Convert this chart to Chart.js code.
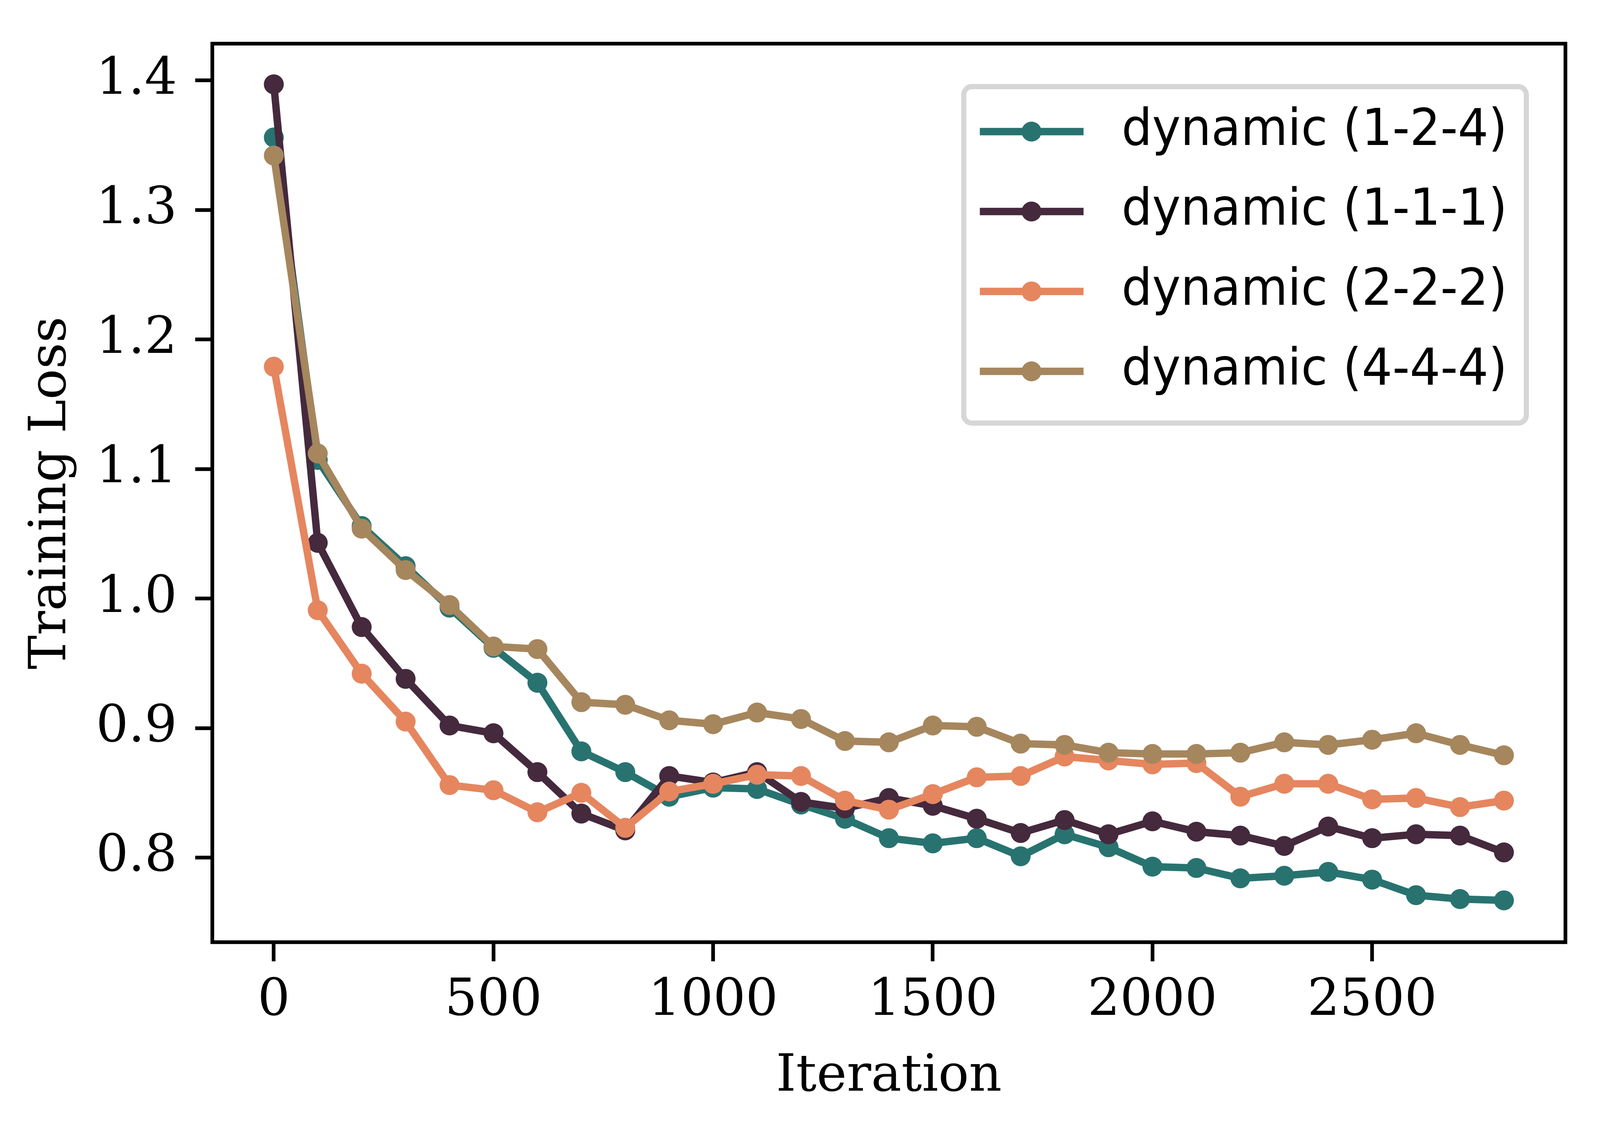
<!DOCTYPE html>
<html>
<head>
<meta charset="utf-8">
<script src="https://cdn.jsdelivr.net/npm/chart.js@4/dist/chart.umd.min.js"></script>
<style>
    html, body { margin: 0; padding: 0; background: #fff; overflow: hidden; }
    #chartBox { position: relative; }
</style>
</head>
<body>
<div id="chartBox"><canvas id="lossChart"></canvas></div>
<script>
// Iterations on the x axis
const iterations = [0, 100, 200, 300, 400, 500, 600, 700, 800, 900, 1000, 1100, 1200, 1300, 1400,
    1500, 1600, 1700, 1800, 1900, 2000, 2100, 2200, 2300, 2400, 2500, 2600, 2700, 2800];

// Training loss per run
const loss124 = [1.356, 1.107, 1.056, 1.025, 0.993, 0.962, 0.935, 0.882, 0.866, 0.847, 0.854, 0.853, 0.841, 0.830, 0.815,
    0.811, 0.815, 0.801, 0.818, 0.808, 0.793, 0.792, 0.784, 0.786, 0.789, 0.783, 0.771, 0.768, 0.767];
const loss111 = [1.397, 1.043, 0.978, 0.938, 0.902, 0.896, 0.866, 0.834, 0.821, 0.863, 0.858, 0.866, 0.843, 0.838, 0.846,
    0.840, 0.830, 0.819, 0.829, 0.818, 0.828, 0.820, 0.817, 0.809, 0.824, 0.815, 0.818, 0.817, 0.804];
const loss222 = [1.179, 0.991, 0.942, 0.905, 0.856, 0.852, 0.835, 0.850, 0.823, 0.851, 0.857, 0.864, 0.863, 0.844, 0.837,
    0.849, 0.862, 0.863, 0.878, 0.875, 0.872, 0.873, 0.847, 0.857, 0.857, 0.845, 0.846, 0.839, 0.844];
const loss444 = [1.342, 1.112, 1.054, 1.022, 0.995, 0.963, 0.961, 0.920, 0.918, 0.906, 0.903, 0.912, 0.907, 0.890, 0.889,
    0.902, 0.901, 0.888, 0.887, 0.881, 0.880, 0.880, 0.881, 0.889, 0.887, 0.891, 0.896, 0.887, 0.879];

const seriesLabels = ['dynamic (1-2-4)', 'dynamic (1-1-1)', 'dynamic (2-2-2)', 'dynamic (4-4-4)'];
const seriesValues = [loss124, loss111, loss222, loss444];
const seriesColors = ['#287370', '#45293d', '#e5865f', '#a6865d'];

const xTicks = [0, 500, 1000, 1500, 2000, 2500];
const yTicks = [0.8, 0.9, 1.0, 1.1, 1.2, 1.3, 1.4];

// layout numbers are taken from the 4582x2930 original and scaled to the window
const SX = window.innerWidth / 4582;
const SY = window.innerHeight / 2930;
const SM = Math.sqrt(SX * SY);
const px = v => v * SX;   // horizontal
const py = v => v * SY;   // vertical
const pm = v => v * SM;   // sizes

const chartBox = document.getElementById('chartBox');
chartBox.style.width = window.innerWidth + 'px';
chartBox.style.height = window.innerHeight + 'px';

const serif = "'DejaVu Serif', serif";
const sans = "'DejaVu Sans', sans-serif";
const fontPx = pm(138);
const halfLine = fontPx / 2;
const midAbove = 0.346 * fontPx; // canvas 'middle' sits this far above the baseline

// box around the plot area, drawn over the lines like matplotlib spines
const framePlugin = {
    id: 'frame',
    afterDatasetsDraw(chart) {
        const { ctx, chartArea: a } = chart;
        ctx.save();
        ctx.strokeStyle = '#000';
        ctx.lineWidth = pm(10);
        ctx.strokeRect(a.left, a.top, a.right - a.left, a.bottom - a.top);
        ctx.restore();
    }
};

// matplotlib style legend in the upper right corner
const legendPlugin = {
    id: 'boxLegend',
    afterDraw(chart) {
        const { ctx, chartArea: a } = chart;
        const right = a.right - px(112);
        const top = a.top + py(110);
        const left = right - px(1611);
        const bottom = top + py(861);

        ctx.save();
        ctx.beginPath();
        ctx.roundRect(left, top, right - left, bottom - top, pm(22));
        ctx.fillStyle = 'rgba(255,255,255,0.8)';
        ctx.fill();
        ctx.lineWidth = pm(14);
        ctx.strokeStyle = '#d6d6d6';
        ctx.stroke();

        chart.data.datasets.forEach((ds, i) => {
            const y = top + py(115 + i * 204.5);
            ctx.strokeStyle = ds.borderColor;
            ctx.lineWidth = pm(20);
            ctx.lineCap = 'butt';
            ctx.beginPath();
            ctx.moveTo(left + px(46), y);
            ctx.lineTo(left + px(343), y);
            ctx.stroke();

            ctx.fillStyle = ds.borderColor;
            ctx.beginPath();
            ctx.arc(left + px(194), y, pm(27), 0, Math.PI * 2);
            ctx.fill();

            // squeeze the label to the horizontal scale so it fits the box like the original
            ctx.save();
            ctx.translate(left + px(452), y);
            ctx.scale(SX / SM, 1);
            ctx.fillStyle = '#000';
            ctx.font = `${fontPx}px ${sans}`;
            ctx.textAlign = 'left';
            ctx.textBaseline = 'middle';
            ctx.fillText(ds.label, 0, 0);
            ctx.restore();
        });
        ctx.restore();
    }
};

const datasets = seriesLabels.map((label, i) => ({
    label: label,
    data: iterations.map((it, j) => ({ x: it, y: seriesValues[i][j] })),
    borderColor: seriesColors[i],
    backgroundColor: seriesColors[i],
    borderWidth: pm(20),
    pointRadius: pm(27),
    pointBorderWidth: 0,
    pointHoverRadius: pm(27),
    tension: 0,
    // last run must sit on top, as in the original
    order: seriesLabels.length - i
}));

new Chart(document.getElementById('lossChart'), {
    type: 'line',
    data: { datasets: datasets },
    options: {
        responsive: true,
        maintainAspectRatio: false,
        animation: false,
        events: [],
        layout: { padding: { left: 0, top: py(99), right: px(99), bottom: 0 } },
        plugins: {
            legend: { display: false },
            tooltip: { enabled: false }
        },
        scales: {
            x: {
                type: 'linear',
                min: -140,
                max: 2940,
                afterFit: scale => { scale.height = py(519); },
                afterBuildTicks: scale => { scale.ticks = xTicks.map(v => ({ value: v })); },
                ticks: {
                    callback: v => String(v),
                    color: '#000',
                    padding: py(2563) - py(2411) - halfLine - py(49),
                    maxRotation: 0,
                    font: { family: serif, size: fontPx, lineHeight: 1 }
                },
                grid: {
                    display: true,
                    drawOnChartArea: false,
                    drawTicks: true,
                    tickLength: py(49),
                    tickWidth: pm(10),
                    tickColor: '#000'
                },
                border: { display: false },
                title: {
                    display: true,
                    text: 'Iteration',
                    color: '#000',
                    padding: { top: 0, bottom: py(2930 - 2802) + midAbove - halfLine },
                    font: { family: serif, size: fontPx, lineHeight: 1 }
                }
            },
            y: {
                type: 'linear',
                min: 0.7347,
                max: 1.4284,
                afterFit: scale => { scale.width = px(608); },
                afterBuildTicks: scale => { scale.ticks = yTicks.map(v => ({ value: v })); },
                ticks: {
                    callback: v => v.toFixed(1),
                    color: '#000',
                    padding: px(52),
                    font: { family: serif, size: fontPx, lineHeight: 1 }
                },
                grid: {
                    display: true,
                    drawOnChartArea: false,
                    drawTicks: true,
                    tickLength: px(49),
                    tickWidth: pm(10),
                    tickColor: '#000'
                },
                border: { display: false },
                title: {
                    display: true,
                    text: 'Training Loss',
                    color: '#000',
                    padding: { top: px(199) - midAbove - halfLine, bottom: 0 },
                    font: { family: serif, size: fontPx, lineHeight: 1 }
                }
            }
        }
    },
    plugins: [framePlugin, legendPlugin]
});
</script>
</body>
</html>
